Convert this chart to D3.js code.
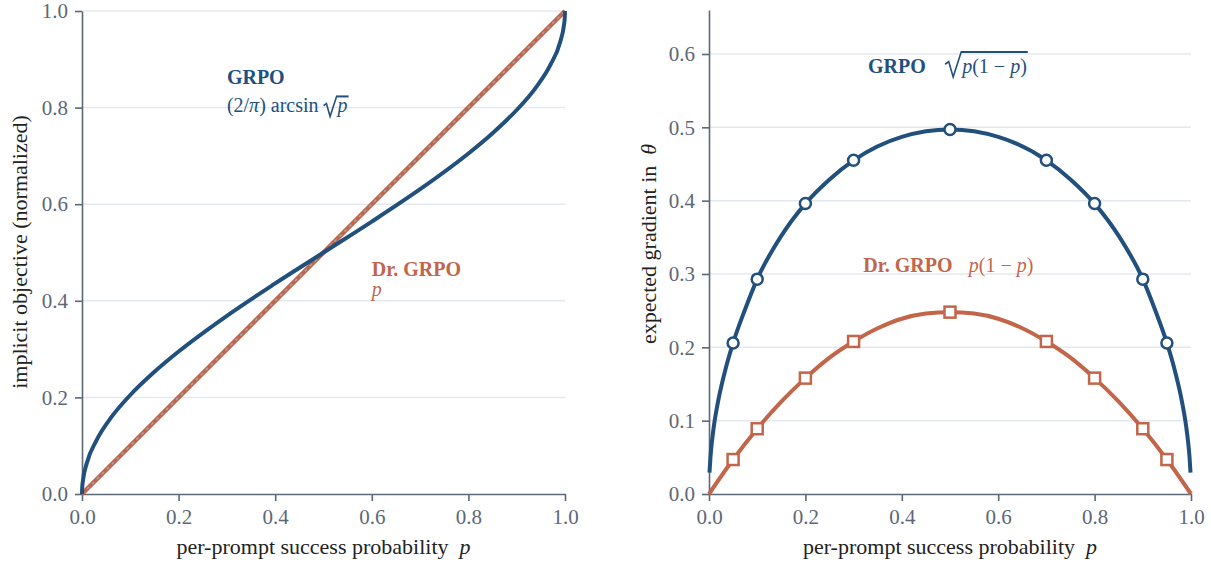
<!DOCTYPE html>
<html>
<head>
<meta charset="utf-8">
<script src="https://cdn.jsdelivr.net/npm/d3@7"></script>
<style>
body { margin: 0; background: #fff; }
svg { display: block; }
text { font-family: "Liberation Serif", "DejaVu Serif", serif; }
</style>
</head>
<body>
<svg id="chart" width="1211" height="564"></svg>
<script>
// left panel: implicit objective
var pObj = [0, 0.0005, 0.002, 0.01, 0.03, 0.06, 0.1, 0.15, 0.2, 0.3, 0.4, 0.5,
            0.6, 0.7, 0.8, 0.85, 0.9, 0.94, 0.97, 0.99, 0.998, 0.9995, 1];
var grpoObj = [0, 0.014, 0.028, 0.064, 0.111, 0.158, 0.205, 0.253, 0.295, 0.369, 0.436, 0.5,
               0.564, 0.631, 0.705, 0.747, 0.795, 0.842, 0.889, 0.936, 0.972, 0.986, 1];
var pDrObj = [0, 1];
var drObj = [0, 1];

// right panel: expected gradient
var pGrad = [0.001, 0.003, 0.006, 0.01, 0.02, 0.035, 0.05, 0.075, 0.1, 0.15, 0.2, 0.25, 0.3, 0.4, 0.5,
             0.6, 0.7, 0.75, 0.8, 0.85, 0.9, 0.925, 0.95, 0.965, 0.98, 0.99, 0.994, 0.997, 0.999];
var grpoGrad = [0.029, 0.05, 0.071, 0.092, 0.13, 0.172, 0.206, 0.252, 0.293, 0.352, 0.396, 0.429, 0.455, 0.487, 0.497,
                0.487, 0.455, 0.429, 0.396, 0.352, 0.293, 0.252, 0.206, 0.172, 0.13, 0.092, 0.071, 0.05, 0.029];
var pDrGrad = [0, 0.05, 0.1, 0.15, 0.2, 0.25, 0.3, 0.35, 0.4, 0.45, 0.5,
               0.55, 0.6, 0.65, 0.7, 0.75, 0.8, 0.85, 0.9, 0.95, 1];
var drGrad = [0, 0.047, 0.089, 0.126, 0.158, 0.186, 0.208, 0.226, 0.239, 0.246, 0.248,
              0.246, 0.239, 0.226, 0.208, 0.186, 0.158, 0.126, 0.089, 0.047, 0];

var markP = [0.05, 0.1, 0.2, 0.3, 0.5, 0.7, 0.8, 0.9, 0.95];
var grpoMarks = [0.206, 0.293, 0.396, 0.455, 0.497, 0.455, 0.396, 0.293, 0.206];
var drMarks = [0.047, 0.089, 0.158, 0.208, 0.248, 0.208, 0.158, 0.089, 0.047];

var xTicks = [0, 0.2, 0.4, 0.6, 0.8, 1.0];
var yTicksObj = [0, 0.2, 0.4, 0.6, 0.8, 1.0];
var yTicksGrad = [0, 0.1, 0.2, 0.3, 0.4, 0.5, 0.6];

var BLUE = '#22507d';
var ORANGE = '#c2654a';
var AXIS = '#5d6877';
var GRID = '#e4e9ef';

var svg = d3.select('#chart');
var fmt = d3.format('.1f');

function panel(x0, x1, yTop, yMax, yTicks, ytitle, ytitleX, ytitleY) {
    var x = d3.scaleLinear().domain([0, 1]).range([x0, x1]);
    var y = d3.scaleLinear().domain([0, yMax]).range([494, yTop]);
    var g = svg.append('g');

    // grid
    g.selectAll('.grid').data(yTicks.filter(d => d > 0)).enter()
        .append('line')
        .attr('x1', x0).attr('x2', x1)
        .attr('y1', d => y(d)).attr('y2', d => y(d))
        .attr('stroke', GRID).attr('stroke-width', 1.5);

    var ya = g.append('g').attr('transform', 'translate(' + x0 + ',0)')
        .call(d3.axisLeft(y).tickValues(yTicks).tickFormat(fmt).tickSize(7).tickSizeOuter(0).tickPadding(7));
    var xa = g.append('g').attr('transform', 'translate(0,494)')
        .call(d3.axisBottom(x).tickValues(xTicks).tickFormat(fmt).tickSize(7).tickSizeOuter(0).tickPadding(8));
    [ya, xa].forEach(a => {
        a.attr('font-family', null).attr('font-size', null);
        a.select('.domain').attr('stroke', AXIS).attr('stroke-width', 1.6);
        a.selectAll('.tick line').attr('stroke', AXIS).attr('stroke-width', 1.6);
        a.selectAll('.tick text').attr('fill', AXIS).style('font-size', '21px');
    });

    var xt = g.append('text')
        .attr('x', (x0 + x1) / 2).attr('y', 554)
        .attr('text-anchor', 'middle').attr('fill', '#222')
        .style('font-size', '22px');
    xt.append('tspan').text('per-prompt success probability\u2002');
    xt.append('tspan').style('font-style', 'italic').text('p');

    var yt = g.append('text')
        .attr('transform', 'translate(' + ytitleX + ',' + ytitleY + ') rotate(-90)')
        .attr('text-anchor', 'middle').attr('fill', '#222')
        .style('font-size', '22px');
    ytitle(yt);

    return {x: x, y: y, g: g};
}

// radical sign drawn as a path, radicand as text, bar on top
function sqrtLabel(g, xs, ys, color, parts, w, lift) {
    var r = g.append('text').attr('x', xs + w + 1).attr('y', ys).attr('fill', color)
        .style('font-size', '20px');
    parts.forEach(pp => r.append('tspan').style('font-style', pp[1] ? 'italic' : 'normal').text(pp[0]));
    var rw = r.node().getComputedTextLength();
    var xe = xs + w + 2 + rw;
    g.append('path')
        .attr('d', 'M' + xs + ',' + (ys - 0.42 * lift) +
                   'L' + (xs + 0.22 * w) + ',' + (ys - 0.55 * lift) +
                   'L' + (xs + 0.5 * w) + ',' + (ys + 4) +
                   'L' + (xs + w) + ',' + (ys - lift))
        .attr('fill', 'none').attr('stroke', color).attr('stroke-width', 1.6);
    g.append('line')
        .attr('x1', xs + w - 0.5).attr('x2', xe)
        .attr('y1', ys - lift).attr('y2', ys - lift)
        .attr('stroke', color).attr('stroke-width', 2);
}

// ---------- left panel ----------
var L = panel(82, 565, 11, 1, yTicksObj, t => t.text('implicit objective (normalized)'), 27, 252);
var lineL = d3.line().x(d => L.x(d[0])).y(d => L.y(d[1])).curve(d3.curveMonotoneX);
var lineStraightL = d3.line().x(d => L.x(d[0])).y(d => L.y(d[1]));

L.g.append('path').datum(pDrObj.map((p, i) => [p, drObj[i]]))
    .attr('d', lineStraightL)
    .attr('fill', 'none').attr('stroke', ORANGE).attr('stroke-width', 4.5);
L.g.append('path').datum(pDrObj.map((p, i) => [p, drObj[i]]))
    .attr('d', lineStraightL)
    .attr('fill', 'none').attr('stroke', '#9aa7b4').attr('stroke-width', 1.5)
    .attr('stroke-dasharray', '3,4');
L.g.append('path').datum(pObj.map((p, i) => [p, grpoObj[i]]))
    .attr('d', lineL)
    .attr('fill', 'none').attr('stroke', BLUE).attr('stroke-width', 4);

L.g.append('text').attr('x', L.x(0.3)).attr('y', L.y(0.849))
    .attr('fill', BLUE).style('font-size', '20px').style('font-weight', 'bold').text('GRPO');
var f1 = L.g.append('text').attr('x', L.x(0.3)).attr('y', L.y(0.79))
    .attr('fill', BLUE).style('font-size', '20px');
f1.append('tspan').text('(2/');
f1.append('tspan').style('font-style', 'italic').text('\u03C0');
f1.append('tspan').text(') arcsin');
var f1w = f1.node().getComputedTextLength();
sqrtLabel(L.g, L.x(0.3) + f1w + 5, L.y(0.79), BLUE, [['p', true]], 13, 16);

L.g.append('text').attr('x', L.x(0.6)).attr('y', L.y(0.451))
    .attr('fill', ORANGE).style('font-size', '20px').style('font-weight', 'bold').text('Dr. GRPO');
L.g.append('text').attr('x', L.x(0.6)).attr('y', L.y(0.41))
    .attr('fill', ORANGE).style('font-size', '20px').style('font-style', 'italic').text('p');

// ---------- right panel ----------
var R = panel(709, 1191, 10, 0.66, yTicksGrad, t => {
    t.append('tspan').text('expected gradient in\u2002');
    t.append('tspan').style('font-style', 'italic').text('\u03B8');
}, 656, 244);
var lineR = d3.line().x(d => R.x(d[0])).y(d => R.y(d[1])).curve(d3.curveMonotoneX);

R.g.append('path').datum(pGrad.map((p, i) => [p, grpoGrad[i]]))
    .attr('d', lineR)
    .attr('fill', 'none').attr('stroke', BLUE).attr('stroke-width', 4);
R.g.append('path').datum(pDrGrad.map((p, i) => [p, drGrad[i]]))
    .attr('d', lineR)
    .attr('fill', 'none').attr('stroke', ORANGE).attr('stroke-width', 4);

R.g.selectAll('.mc').data(markP).enter().append('circle')
    .attr('cx', d => R.x(d)).attr('cy', (d, i) => R.y(grpoMarks[i])).attr('r', 5.5)
    .attr('fill', '#fff').attr('stroke', BLUE).attr('stroke-width', 2.5);
R.g.selectAll('.ms').data(markP).enter().append('rect')
    .attr('x', d => R.x(d) - 5.5).attr('y', (d, i) => R.y(drMarks[i]) - 5.5)
    .attr('width', 11).attr('height', 11)
    .attr('fill', '#fff').attr('stroke', ORANGE).attr('stroke-width', 2.5);

R.g.append('text').attr('x', R.x(0.33)).attr('y', R.y(0.574))
    .attr('fill', BLUE).style('font-size', '20px').style('font-weight', 'bold').text('GRPO');
sqrtLabel(R.g, R.x(0.49), R.y(0.574), BLUE, [['p', true], ['(1 \u2212 ', false], ['p', true], [')', false]], 16, 21);

R.g.append('text').attr('x', R.x(0.32)).attr('y', R.y(0.303))
    .attr('fill', ORANGE).style('font-size', '20px').style('font-weight', 'bold').text('Dr. GRPO');
var f2 = R.g.append('text').attr('x', R.x(0.539)).attr('y', R.y(0.303))
    .attr('fill', ORANGE).style('font-size', '20px');
f2.append('tspan').style('font-style', 'italic').text('p');
f2.append('tspan').text('(1 \u2212 ');
f2.append('tspan').style('font-style', 'italic').text('p');
f2.append('tspan').text(')');
</script>
</body>
</html>
